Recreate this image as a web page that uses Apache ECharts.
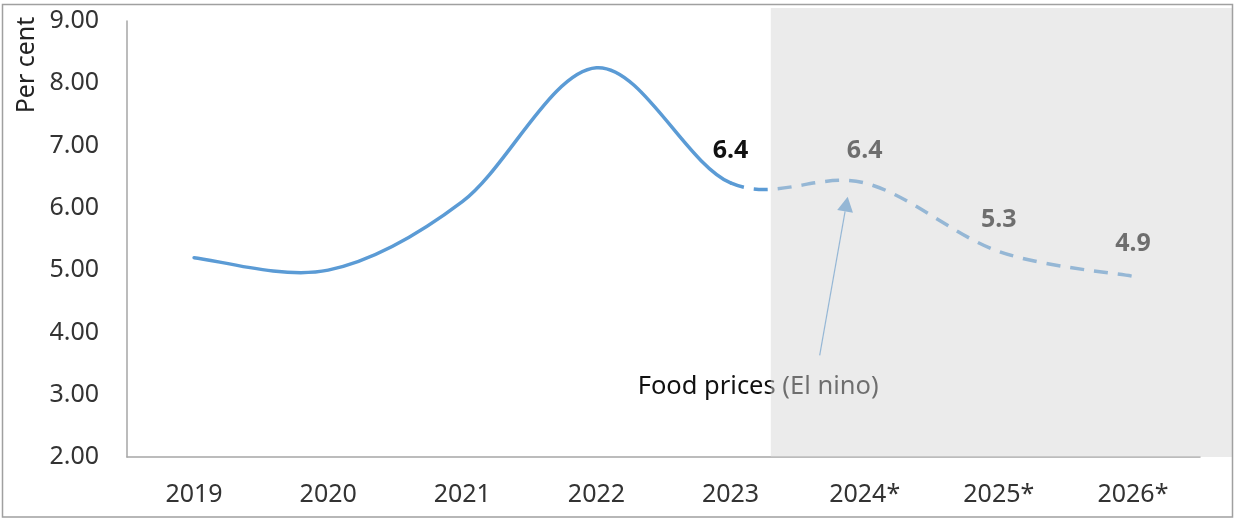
<!DOCTYPE html>
<html>
<head>
<meta charset="utf-8">
<script src="https://cdn.jsdelivr.net/npm/echarts@6/dist/echarts.min.js"></script>
<style>
  html, body { margin: 0; padding: 0; background: #ffffff; }
  #chart { width: 1234px; height: 519px; }
</style>
</head>
<body>
<div id="chart"></div>
<script>
// Inflation path, per cent: actuals through 2023, projections after
const years = ['2019', '2020', '2021', '2022', '2023', '2024*', '2025*', '2026*'];
const actual = [5.2, 5.0, 6.1, 8.25, 6.4, null, null, null];
const projected = [null, null, null, null, 6.4, 6.4, 5.3, 4.9];
const labelledPoints = [4, 5, 6, 7];
const yTicks = { min: 2, max: 9, step: 1 };
const annotationText = 'Food prices (El nino)';

const FONT = '"Noto Sans", "Open Sans", sans-serif';
const BLUE = '#5B9BD5';

// one continuous path: actual values, then projections
const path = years.map(function (y, i) {
  return actual[i] !== null ? actual[i] : projected[i];
});
const lastActual = actual.reduce(function (acc, v, i) { return v !== null ? i : acc; }, 0);

// Catmull-Rom style cubic segments through pixel points
function smoothPath(pts, from, to) {
  let d = 'M' + pts[from][0] + ',' + pts[from][1];
  for (let i = from; i < to; i++) {
    const p0 = pts[Math.max(i - 1, 0)];
    const p1 = pts[i];
    const p2 = pts[i + 1];
    const p3 = pts[Math.min(i + 2, pts.length - 1)];
    const c1 = [p1[0] + (p2[0] - p0[0]) / 6, p1[1] + (p2[1] - p0[1]) / 6];
    const c2 = [p2[0] - (p3[0] - p1[0]) / 6, p2[1] - (p3[1] - p1[1]) / 6];
    d += ' C' + c1[0] + ',' + c1[1] + ' ' + c2[0] + ',' + c2[1] + ' ' + p2[0] + ',' + p2[1];
  }
  return d;
}

function renderItem(params, api) {
  const i = params.dataIndex;
  const pts = path.map(function (v, k) { return api.coord([k, v]); });
  const children = [];
  if (i === 0) {
    children.push({
      type: 'path',
      shape: { pathData: smoothPath(pts, 0, lastActual) },
      style: { fill: null, stroke: BLUE, lineWidth: 3.5, lineCap: 'round' }
    });
  }
  if (i === lastActual) {
    children.push({
      type: 'path',
      shape: { pathData: smoothPath(pts, lastActual, pts.length - 1) },
      style: { fill: null, stroke: BLUE, lineWidth: 3.5, lineDash: [14, 10] }
    });
  }
  if (labelledPoints.indexOf(i) >= 0) {
    children.push({
      type: 'text',
      x: pts[i][0],
      y: pts[i][1] - 32,
      style: {
        text: path[i].toFixed(1),
        fontFamily: FONT,
        fontSize: 25,
        fontWeight: 'bold',
        fill: '#111111',
        align: 'center',
        verticalAlign: 'middle'
      }
    });
  }
  return { type: 'group', children: children };
}

const chart = echarts.init(document.getElementById('chart'), null, { renderer: 'canvas' });

chart.setOption({
  backgroundColor: '#ffffff',
  animation: false,
  grid: { left: 127, right: 34, top: 21, bottom: 62, containLabel: false },
  xAxis: {
    type: 'category',
    data: years,
    boundaryGap: true,
    axisLine: { show: true, lineStyle: { color: '#A6A6A6', width: 1.5 } },
    axisTick: { show: false },
    axisLabel: { color: '#333333', fontFamily: FONT, fontSize: 25, margin: 25 },
    splitLine: { show: false }
  },
  yAxis: {
    type: 'value',
    min: yTicks.min,
    max: yTicks.max,
    interval: yTicks.step,
    axisLine: { show: true, lineStyle: { color: '#A6A6A6', width: 1.5 } },
    axisTick: { show: false },
    splitLine: { show: false },
    axisLabel: {
      color: '#333333', fontFamily: FONT, fontSize: 25, margin: 28,
      formatter: function (v) { return v.toFixed(2); }
    }
  },
  series: [
    {
      name: 'Inflation',
      type: 'custom',
      renderItem: renderItem,
      data: path.map(function (v, i) { return [i, v]; }),
      encode: { x: 0, y: 1 },
      clip: false,
      z: 2
    }
  ]
});

// annotation, forecast shading and frame placed from the axis scales
const px = function (cat, val) { return chart.convertToPixel({ gridIndex: 0 }, [cat, val]); };
const p23 = px('2023', 2);
const p24 = px('2024*', 2);
const step = p24[0] - p23[0];
const shadeLeft = p23[0] + 0.3 * step;
const shadeBottom = p23[1];

const tip = [p24[0] - 17, px('2024*', 6.18)[1]];
const tail = [p24[0] - 45, px('2024*', 3.63)[1]];
const textY = px('2024*', 3.13)[1];
const textX = p24[0] - 227;

// arrowhead geometry
const dx = tip[0] - tail[0], dy = tip[1] - tail[1];
const len = Math.sqrt(dx * dx + dy * dy);
const ux = dx / len, uy = dy / len;
const headLen = 15, headHalf = 8;
const baseC = [tip[0] - ux * headLen, tip[1] - uy * headLen];
const head = [
  tip,
  [baseC[0] - uy * headHalf, baseC[1] + ux * headHalf],
  [baseC[0] + uy * headHalf, baseC[1] - ux * headHalf]
];

chart.setOption({
  graphic: [
    {
      type: 'line',
      z: 50,
      shape: { x1: tail[0], y1: tail[1], x2: baseC[0], y2: baseC[1] },
      style: { stroke: BLUE, lineWidth: 1.2 }
    },
    {
      type: 'polygon',
      z: 50,
      shape: { points: head },
      style: { fill: BLUE }
    },
    {
      type: 'text',
      z: 50,
      x: textX,
      y: textY,
      style: {
        text: annotationText,
        fontFamily: FONT,
        fontSize: 25.5,
        fill: '#111111',
        verticalAlign: 'middle'
      }
    },
    {
      type: 'text',
      z: 50,
      x: 27,
      y: 65,
      rotation: Math.PI / 2,
      style: {
        text: 'Per cent',
        fontFamily: FONT,
        fontSize: 25,
        fill: '#222222',
        align: 'center',
        verticalAlign: 'middle'
      }
    },
    {
      // translucent forecast shading laid over the projection years
      type: 'rect',
      z: 100,
      shape: { x: shadeLeft, y: 8, width: 1232 - shadeLeft, height: shadeBottom - 8 },
      style: { fill: 'rgba(213,213,213,0.48)' }
    },
    {
      type: 'rect',
      z: 101,
      shape: { x: 2.5, y: 4.5, width: 1230, height: 512.5 },
      style: { fill: null, stroke: '#A0A0A0', lineWidth: 1.5 }
    }
  ]
});
</script>
</body>
</html>
